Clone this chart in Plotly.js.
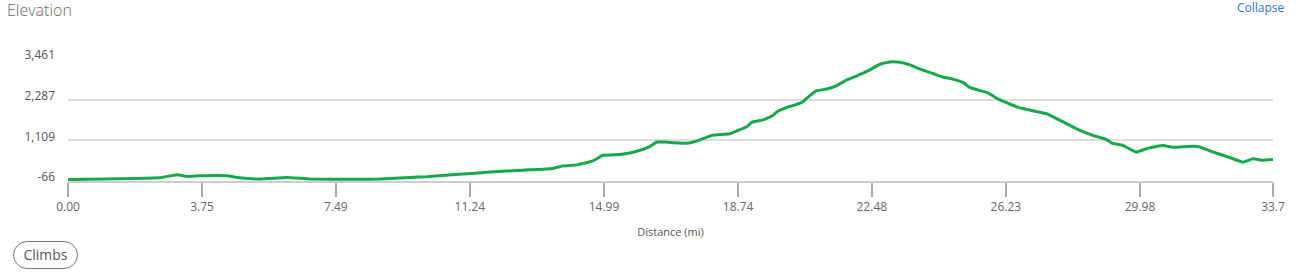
<!DOCTYPE html>
<html>
<head>
<meta charset="utf-8">
<script src="https://cdn.plot.ly/plotly-3.0.1.min.js"></script>
<style>
  html, body { margin: 0; padding: 0; background: #fff; }
  #wrap { position: relative; width: 1296px; height: 280px; overflow: hidden; font-family: "Open Sans", sans-serif; }
  #chart { position: absolute; left: 0; top: 0; width: 1296px; height: 280px; }
  #title { position: absolute; left: 7px; top: 1px; font-size: 16px; line-height: 18px; font-weight: 300; color: #666; }
  #collapse { position: absolute; left: 1237px; top: 0px; font-size: 12px; line-height: 16px; color: #2a78d0; }
  #climbs { position: absolute; left: 13px; top: 241px; width: 65px; height: 28px; border: 1px solid #777; border-radius: 14px; box-sizing: border-box; font-size: 14px; color: #555; text-align: center; line-height: 26px; }
</style>
</head>
<body>
<div id="wrap">
  <div id="chart"></div>
  <div id="title">Elevation</div>
  <div id="collapse">Collapse</div>
  <div id="climbs">Climbs</div>
</div>
<script>
const distance = [0.00, 0.98, 2.57, 3.05, 3.33, 3.69, 4.45, 4.73, 5.37, 6.12, 6.77, 8.17, 8.72, 9.56, 10.04, 10.49, 10.96, 11.80, 12.72, 13.56, 13.84, 14.23, 14.68, 14.96, 15.44, 15.63, 16.00, 16.28, 16.47, 16.69, 16.92, 17.31, 17.53, 17.87, 18.04, 18.51, 18.74, 18.99, 19.13, 19.44, 19.71, 19.85, 20.11, 20.27, 20.53, 20.69, 20.94, 21.22, 21.53, 21.73, 22.06, 22.37, 22.71, 22.99, 23.27, 23.55, 23.83, 24.19, 24.44, 24.75, 25.03, 25.22, 25.45, 25.70, 26.06, 26.62, 27.38, 27.66, 28.30, 28.66, 29.05, 29.19, 29.50, 29.87, 30.26, 30.62, 30.90, 31.46, 31.66, 32.02, 32.49, 32.86, 33.14, 33.42, 33.70];
const elevation = [-25, -10, 27, 113, 67, 84, 84, 38, -10, 38, -10, -19, -10, 38, 56, 96, 130, 191, 248, 297, 371, 400, 515, 678, 698, 727, 822, 937, 1060, 1060, 1043, 1023, 1072, 1204, 1261, 1301, 1396, 1511, 1634, 1703, 1827, 1950, 2065, 2114, 2208, 2352, 2544, 2593, 2708, 2831, 2974, 3118, 3309, 3376, 3367, 3290, 3166, 3041, 2946, 2880, 2784, 2639, 2564, 2495, 2277, 2047, 1875, 1732, 1396, 1253, 1129, 1032, 965, 773, 899, 957, 908, 937, 917, 773, 614, 478, 574, 535, 555];
const xTickVals = [0, 3.75, 7.49, 11.24, 14.99, 18.74, 22.48, 26.23, 29.98, 33.7];
const xTickText = ["0.00", "3.75", "7.49", "11.24", "14.99", "18.74", "22.48", "26.23", "29.98", "33.7"];
const yTickVals = [-66, 1109, 2287, 3461];
const yTickText = ["-66", "1,109", "2,287", "3,461"];

const trace = {
  x: distance, y: elevation, type: 'scatter', mode: 'lines',
  line: { color: '#17a84a', width: 3, shape: 'spline', smoothing: 0.3 },
  hoverinfo: 'skip'
};
const layout = {
  width: 1296, height: 280,
  margin: { l: 68, r: 23, t: 59, b: 99 },
  paper_bgcolor: '#fff', plot_bgcolor: '#fff',
  showlegend: false,
  font: { family: '"Open Sans", sans-serif', color: '#555', size: 12 },
  xaxis: {
    range: [0, 33.7], tickmode: 'array', tickvals: xTickVals, ticktext: xTickText,
    showgrid: false, zeroline: false,
    showline: true, linecolor: '#cccccc', linewidth: 2,
    ticks: 'outside', ticklen: 14, tickwidth: 2, tickcolor: '#aaaaaa',
    tickfont: { size: 12, color: '#666' },
    title: { text: 'Distance (mi)', font: { size: 11, color: '#555' }, standoff: 14 }
  },
  yaxis: {
    range: [-66, 3461], tickmode: 'array', tickvals: yTickVals, ticktext: yTickText,
    showgrid: true, gridcolor: '#dddddd', gridwidth: 2, zeroline: false,
    showline: false, ticks: '', ticklabelstandoff: 12, ticklabelshift: -4,
    tickfont: { size: 12, color: '#555' }
  }
};
Plotly.newPlot('chart', [trace], layout, { displayModeBar: false, staticPlot: true });
</script>
</body>
</html>
